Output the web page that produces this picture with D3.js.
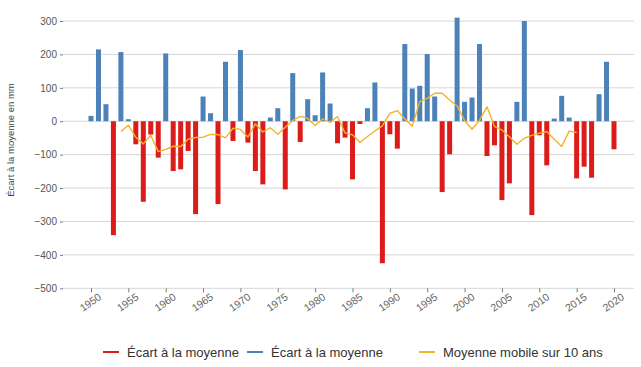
<!DOCTYPE html>
<html><head><meta charset="utf-8">
<script src="https://cdn.jsdelivr.net/npm/d3@7"></script>
<style>
html,body{margin:0;padding:0;background:#fff;}
svg{display:block;font-family:"Liberation Sans",Arial,sans-serif;}
</style></head>
<body>
<svg id="chart" width="641" height="367"></svg>
<script>
const years = [1950,1951,1952,1953,1954,1955,1956,1957,1958,1959,
  1960,1961,1962,1963,1964,1965,1966,1967,1968,1969,
  1970,1971,1972,1973,1974,1975,1976,1977,1978,1979,
  1980,1981,1982,1983,1984,1985,1986,1987,1988,1989,
  1990,1991,1992,1993,1994,1995,1996,1997,1998,1999,
  2000,2001,2002,2003,2004,2005,2006,2007,2008,2009,
  2010,2011,2012,2013,2014,2015,2016,2017,2018,2019,2020];
const ecart = [16,215,51,-341,207,6,-69,-241,-40,-109,
  203,-149,-144,-89,-278,74,24,-248,178,-59,
  213,-64,-149,-189,11,39,-204,144,-62,66,
  18,146,53,-66,-49,-174,-8,39,116,-425,
  -39,-82,231,98,106,201,74,-212,-99,310,
  58,71,231,-104,-72,-236,-186,58,300,-281,
  -42,-132,8,76,11,-171,-136,-169,81,178,-84];
const maYears = [1954,1955,1956,1957,1958,1959,1960,1961,1962,1963,
  1964,1965,1966,1967,1968,1969,1970,1971,1972,1973,
  1974,1975,1976,1977,1978,1979,1980,1981,1982,1983,
  1984,1985,1986,1987,1988,1989,1990,1991,1992,1993,
  1994,1995,1996,1997,1998,1999,2000,2001,2002,2003,
  2004,2005,2006,2007,2008,2009,2010,2011,2012,2013,2014,2015];
const maValues = [-30.5,-11.8,-48.2,-67.7,-42.5,-91,-84.2,-74.9,-75.6,-53.8,
  -48.8,-47.8,-39.3,-39.8,-49.8,-20.9,-24.4,-47.2,-8,-32,
  -19.5,-39,-18,2.2,14.5,8.5,-12.8,6.8,-3.7,14.1,
  -35,-40.7,-63.5,-45.7,-29.3,-13.8,23.7,31.9,6.8,-14.7,
  58.8,68.5,83.8,83.8,63.6,45.8,2.1,-23.9,3.1,43,
  -16.1,-26.1,-46.4,-68.7,-50.7,-42.4,-35.9,-30.9,-53.6,-75.5,-29.6,-33.8];
const xTicks = [1950,1955,1960,1965,1970,1975,1980,1985,1990,1995,2000,2005,2010,2015,2020];
const yTicks = [-500,-400,-300,-200,-100,0,100,200,300];
const yTitle = "Écart à la moyenne en mm";
const legendLabels = ["Écart à la moyenne","Écart à la moyenne","Moyenne mobile sur 10 ans"];

const RED = "#dc1c1a", BLUE = "#4c82b8", ORANGE = "#f3b22a";
const svg = d3.select("#chart");
const left = 63, right = 634;
const x = d3.scaleLinear().domain([1950, 2020]).range([91, 614]);
const y = d3.scaleLinear().domain([-500, 300]).range([288.3, 21]);

// grid
svg.append("g").selectAll("line").data(yTicks).join("line")
  .attr("x1", left).attr("x2", right)
  .attr("y1", d => y(d)).attr("y2", d => y(d))
  .attr("stroke", "#d6d6d6").attr("stroke-width", 1);

// y axis
const yAxis = svg.append("g").attr("transform", `translate(${left},0)`)
  .call(d3.axisLeft(y).tickValues(yTicks).tickSize(3).tickPadding(3)
    .tickFormat(d => d < 0 ? "\u2212" + Math.abs(d) : d));
yAxis.select(".domain").remove();
yAxis.selectAll("line").attr("stroke", "#777");
yAxis.selectAll("text").attr("fill", "#555").attr("font-size", 10);

svg.append("text").attr("transform", "translate(14,140) rotate(-90)")
  .attr("text-anchor", "middle").attr("font-size", 9.5).attr("fill", "#444").text(yTitle);

// x axis
const xAxis = svg.append("g").attr("transform", `translate(0,${y(-500)})`)
  .call(d3.axisBottom(x).tickValues(xTicks).tickSize(4).tickFormat(d3.format("d")));
xAxis.select(".domain").remove();
xAxis.selectAll("line").attr("stroke", "#777");
xAxis.selectAll("text").attr("fill", "#666").attr("font-size", 10.5)
  .attr("text-anchor", "middle").attr("dy", null).attr("y", 0)
  .attr("transform", "translate(1,17) rotate(-35)");

// bars
const bw = 5;
svg.append("g").selectAll("rect").data(years.map((yr, i) => ({yr, v: ecart[i]}))).join("rect")
  .attr("x", d => x(d.yr) - bw / 2).attr("width", bw)
  .attr("y", d => y(Math.max(0, d.v)))
  .attr("height", d => Math.abs(y(d.v) - y(0)))
  .attr("fill", d => d.v < 0 ? RED : BLUE);

// moving average
const line = d3.line().x(d => x(d[0])).y(d => y(d[1])).curve(d3.curveLinear);
svg.append("path").datum(maYears.map((yr, i) => [yr, maValues[i]]))
  .attr("d", line).attr("fill", "none").attr("stroke", ORANGE).attr("stroke-width", 1.4)
  .attr("stroke-linejoin", "round");

// legend
const legendItems = [
  {label: legendLabels[0], color: RED, x: 103},
  {label: legendLabels[1], color: BLUE, x: 247},
  {label: legendLabels[2], color: ORANGE, x: 419}];
const lg = svg.append("g").selectAll("g").data(legendItems).join("g")
  .attr("transform", d => `translate(${d.x},352)`);
lg.append("line").attr("x1", 0).attr("x2", 16).attr("stroke", d => d.color).attr("stroke-width", 2);
lg.append("text").attr("x", 24).attr("y", 4.5).attr("font-size", 13).attr("fill", "#333").text(d => d.label);
</script>
</body></html>
